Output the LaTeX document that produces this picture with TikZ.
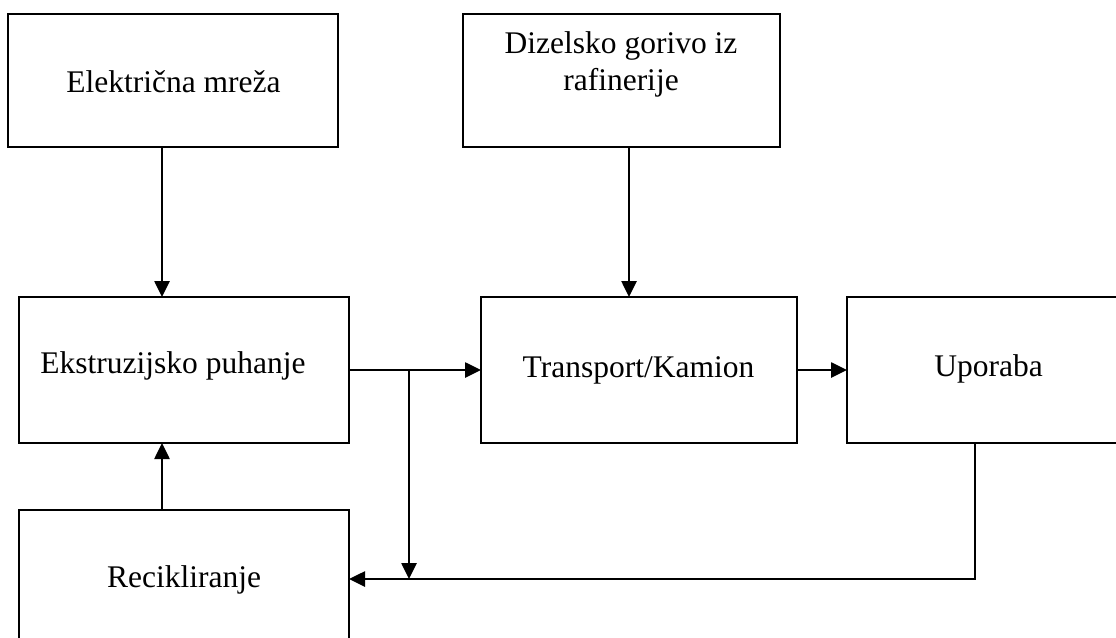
\documentclass[tikz,border=0pt]{standalone}
\usepackage{fontspec}
\setmainfont{Liberation Serif}
\usetikzlibrary{arrows.meta}
\tikzset{
  boxnode/.style={draw=black, line width=2.6pt, rectangle, inner sep=0pt, outer sep=0pt},
  lbl/.style={anchor=base, inner sep=0pt, font=\fontsize{31.5}{37}\selectfont, align=center},
  arr/.style={draw=black, line width=2.6pt, -{Triangle[length=16pt,width=15pt]}},
  ln/.style={draw=black, line width=2.6pt}
}
\begin{document}
\begin{tikzpicture}[x=1pt,y=-1pt]
\clip (0,0) rectangle (1116,637);
\fill[white] (0,0) rectangle (1116,637);
% boxes
\node[boxnode, minimum width=330pt, minimum height=133pt] (elec) at (173,80.5) {};
\node[boxnode, minimum width=317pt, minimum height=133pt] (diz) at (621.5,80.5) {};
\node[boxnode, minimum width=330pt, minimum height=146pt] (ext) at (184,370) {};
\node[boxnode, minimum width=316pt, minimum height=146pt] (trans) at (639,370) {};
\node[boxnode, minimum width=320pt, minimum height=146pt] (upo) at (1007,370) {};
\node[boxnode, minimum width=330pt, minimum height=138pt] (rec) at (184,579) {};
% labels
\node[lbl] (elecT) at (173.5,92) {Električna mreža};
\node[lbl] (dizT1) at (621,53) {Dizelsko gorivo iz};
\node[lbl] (dizT2) at (621,90) {rafinerije};
\node[lbl] (extT) at (173,373) {Ekstruzijsko puhanje};
\node[lbl] (transT) at (638.5,377) {Transport/Kamion};
\node[lbl] (upoT) at (988.5,376) {Uporaba};
\node[lbl] (recT) at (184,587) {Recikliranje};
% helper coordinates
\coordinate (cx) at (162,0);
\coordinate (dx) at (629,0);
\coordinate (bx) at (409,0);
\coordinate (ux) at (975,0);
% connectors
\draw[arr] (elec.south -| cx) -- (ext.north -| cx);
\draw[arr] (diz.south -| dx) -- (trans.north -| dx);
\draw[arr] (ext.east) -- (trans.west);
\draw[arr] (trans.east) -- (upo.west);
\draw[arr] (ext.east -| bx) -- (bx |- rec.east);
\draw[arr] (upo.south -| ux) |- (rec.east);
\draw[arr] (rec.north -| cx) -- (ext.south -| cx);
\end{tikzpicture}
\end{document}
